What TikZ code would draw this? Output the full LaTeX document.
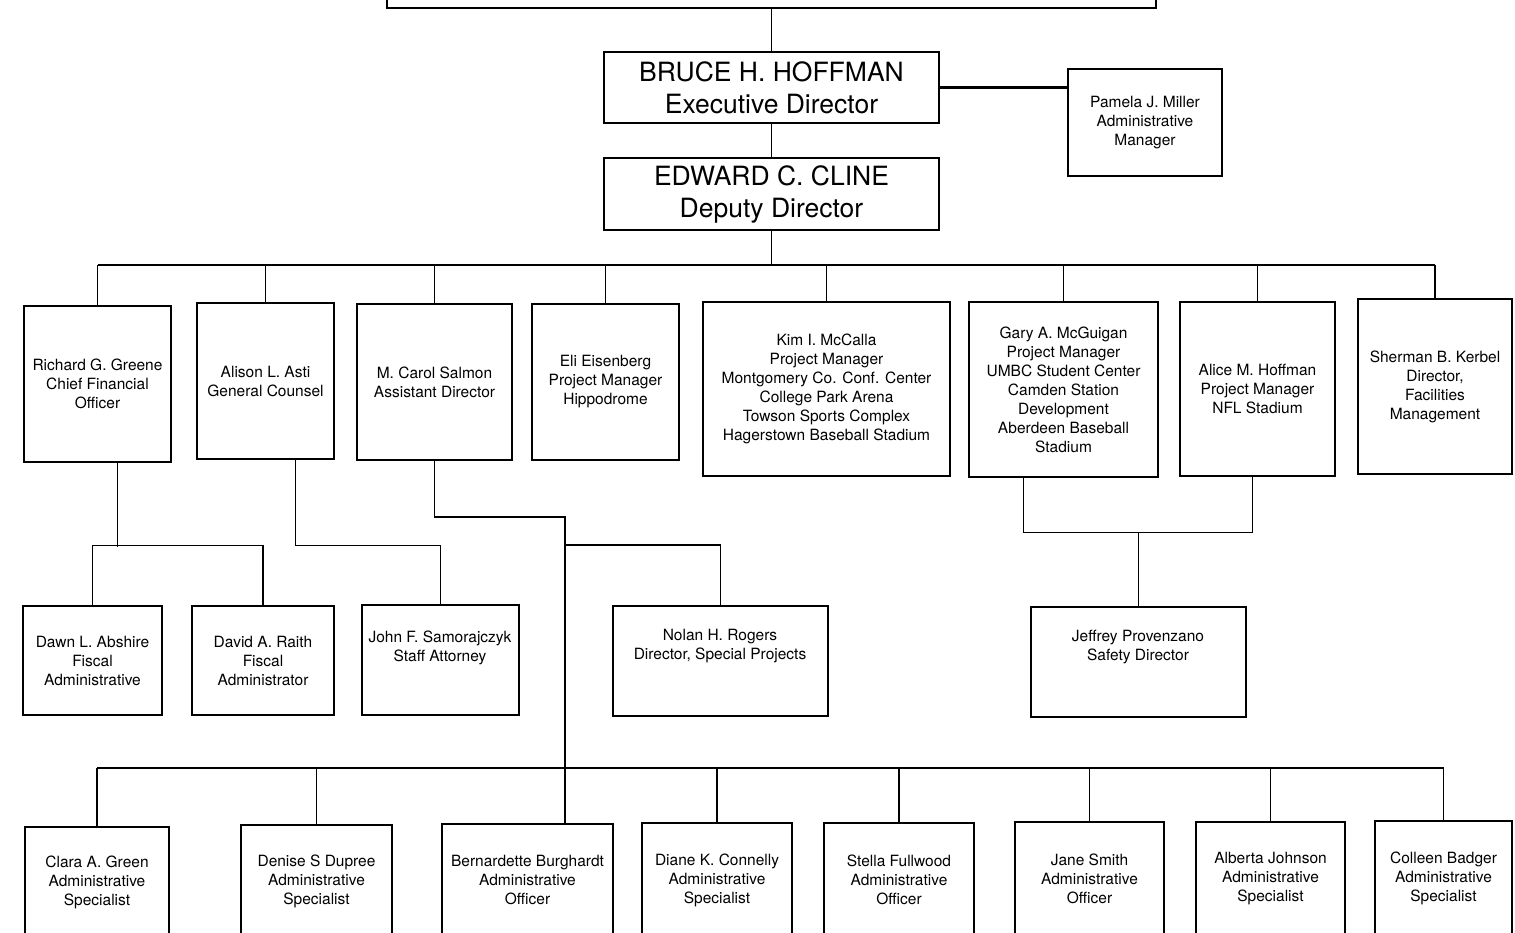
\documentclass[tikz,border=0pt]{standalone}
\usepackage{fontspec}
\setmainfont{TeX Gyre Heros}
\usetikzlibrary{positioning,calc}

\begin{document}
\begin{tikzpicture}[x=1pt,y=1pt,yscale=-1,xscale=1,
  box/.style={draw,line width=1.5pt,rectangle,inner sep=0pt,align=center,
    font=\fontsize{15.5}{19}\selectfont},
  bigbox/.style={box,font=\fontsize{26.5}{32}\selectfont},
  txt/.style={align=center,inner sep=0pt,font=\fontsize{15.5}{19}\selectfont},
  link/.style={line width=1.1pt}]
\useasboundingbox (0,0) rectangle (1515,932);
\clip (0,0) rectangle (1515,932);

%Shape: top boxes
\node[box,minimum width=769,minimum height=48] (board) at (771.5,-16) {};
\node[bigbox,minimum width=335,minimum height=71] (exec) at (771.5,87.5) {BRUCE H. HOFFMAN\\Executive Director};
\node[bigbox,minimum width=335,minimum height=72] (deputy) at (771.5,194) {EDWARD C. CLINE\\Deputy Director};
\node[box,minimum width=154,minimum height=107] (miller) at (1145,122.5) {Pamela J. Miller\\Administrative\\Manager};

%Shape: second row
\node[box,minimum width=147,minimum height=156] (greene) at (97.5,384) {Richard G. Greene\\Chief Financial\\Officer};
\node[box,minimum width=137,minimum height=156] (asti) at (265.5,381) {Alison L. Asti\\General Counsel};
\node[box,minimum width=155,minimum height=156] (salmon) at (434.5,382) {M. Carol Salmon\\Assistant Director};
\node[box,minimum width=147,minimum height=156] (eisen) at (605.5,382) {Eli Eisenberg\\Project Manager\\Hippodrome};
\node[box,minimum width=247,minimum height=174] (mccalla) at (826.5,389) {Kim I. McCalla\\Project Manager\\Montgomery Co. Conf. Center\\College Park Arena\\Towson Sports Complex\\Hagerstown Baseball Stadium};
\node[box,minimum width=189,minimum height=175] (mcguigan) at (1063.5,389.5) {Gary A. McGuigan\\Project Manager\\UMBC Student Center\\Camden Station\\Development\\Aberdeen Baseball\\Stadium};
\node[box,minimum width=155,minimum height=174] (ahoffman) at (1257.5,389) {Alice M. Hoffman\\Project Manager\\NFL Stadium};
\node[box,minimum width=154,minimum height=175] (kerbel) at (1435,386.5) {Sherman B. Kerbel\\Director,\\Facilities\\Management};

%Shape: third row
\node[box,minimum width=139,minimum height=109] (abshire) at (92.5,660.5) {Dawn L. Abshire\\Fiscal\\Administrative};
\node[box,minimum width=142,minimum height=109] (raith) at (263,660.5) {David A. Raith\\Fiscal\\Administrator};
\node[box,minimum width=157,minimum height=110] (samor) at (440.5,660) {};
\node[box,minimum width=215,minimum height=110] (rogers) at (720.5,661) {};
\node[box,minimum width=215,minimum height=110] (provenz) at (1138.5,662) {};
% Text Node
\node[txt] (samor-t) at (440,648) {John F. Samorajczyk\\Staff Attorney};
% Text Node
\node[txt] (rogers-t) at (720,646) {Nolan H. Rogers\\Director, Special Projects};
% Text Node
\node[txt] (provenz-t) at (1138,647) {Jeffrey Provenzano\\Safety Director};

%Shape: bottom row
\node[box,minimum width=144,minimum height=110] (cgreen) at (97,882) {Clara A. Green\\Administrative\\Specialist};
\node[box,minimum width=151,minimum height=112] (dupree) at (316.5,881) {Denise S Dupree\\Administrative\\Specialist};
\node[box,minimum width=171,minimum height=112] (burgh) at (527.5,880) {Bernardette Burghardt\\Administrative\\Officer};
\node[box,minimum width=150,minimum height=114] (connelly) at (717,880) {Diane K. Connelly\\Administrative\\Specialist};
\node[box,minimum width=150,minimum height=114] (fullwood) at (899,880) {Stella Fullwood\\Administrative\\Officer};
\node[box,minimum width=149,minimum height=114] (smith) at (1089.5,879) {Jane Smith\\Administrative\\Officer};
\node[box,minimum width=149,minimum height=114] (ajohnson) at (1270.5,879) {Alberta Johnson\\Administrative\\Specialist};
\node[box,minimum width=137,minimum height=114] (badger) at (1443.5,878) {Colleen Badger\\Administrative\\Specialist};

%Straight Lines
\coordinate (bus) at (0,265);
\coordinate (lowbus) at (0,768);
\coordinate (spine) at (565,517);
\draw[link] (board.south) -- (exec.north);
\draw[link] (exec.south) -- (deputy.north);
\draw[line width=2.8pt] (exec.east) -- (exec.east -| miller.west);
\draw[link] (deputy.south) -- (deputy.south |- bus);
\draw[link] (greene.north |- bus) -- (kerbel.north |- bus);
\foreach \n in {greene,asti,salmon,eisen,mccalla,mcguigan,ahoffman,kerbel}
  \draw[link] (\n.north) -- (\n.north |- bus);

\draw[link] ([xshift=20]greene.south) -- ++(0,84);
\draw[link] (abshire.north) -- ++(0,-60) -| (raith.north);
\draw[link] ([xshift=30]asti.south) -- ++(0,86) -| (samor.north);
\draw[link] (salmon.south) |- (spine) -- (spine |- burgh.north);
\draw[link] (spine |- 0,545) -| (rogers.north);
\draw[link] ([xshift=-40]mcguigan.south) -- ++(0,55) -| ([xshift=-5]ahoffman.south);
\draw[link] (provenz.north) -- (provenz.north |- 0,532);

\draw[link] (cgreen.north |- lowbus) -- (badger.north |- lowbus);
\foreach \n in {cgreen,dupree,connelly,fullwood,smith,ajohnson,badger}
  \draw[link] (\n.north) -- (\n.north |- lowbus);

\end{tikzpicture}
\end{document}
